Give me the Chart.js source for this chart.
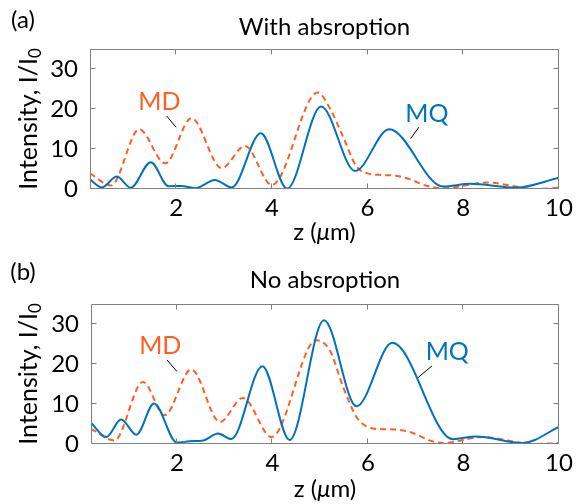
<!DOCTYPE html>
<html>
<head>
<meta charset="utf-8">
<script src="https://cdn.jsdelivr.net/npm/chart.js@4.4.1/dist/chart.umd.min.js"></script>
<style>
  body { margin: 0; background: #fff; }
  canvas { display: block; }
</style>
</head>
<body>
<canvas id="chartA" width="583" height="252"></canvas>
<canvas id="chartB" width="583" height="252"></canvas>
<script>
// intensity I/I0 along z (um)
// (a) with absorption
const zMqA = [0.2, 0.45, 0.76, 1.05, 1.47, 1.84, 2.1, 2.4, 2.81, 3.16, 3.77, 4.32, 5.03, 5.74, 6.45, 7.58, 8.14, 9.11, 10];
const mqA = [2.4, 0.4, 3.1, 0.3, 6.7, 0.7, 0.75, 0.2, 2.25, 0.4, 13.9, 0.1, 20.6, 4.5, 14.9, 0.6, 1.3, 0.35, 2.8];
const zMdA = [0.2, 0.64, 1.23, 1.77, 2.32, 2.95, 3.44, 4.0, 4.96, 5.21, 5.49, 5.77, 6.0, 6.3, 6.6, 6.89, 7.23, 7.6, 8.49, 9.53, 10];
const mdA = [3.9, 0.9, 14.9, 6.4, 17.7, 5.2, 10.75, 1.0, 24.1, 20.2, 13, 5.6, 3.9, 3.5, 3.3, 2.4, 0.8, 0.2, 1.6, 0.0, 0.3];

// (b) no absorption
const zMqB = [0.2, 0.52, 0.83, 1.15, 1.52, 2.0, 2.27, 2.55, 2.86, 3.14, 3.79, 4.36, 5.08, 5.76, 6.51, 7.78, 8.26, 9.24, 10];
const mqB = [5.3, 1.75, 6.1, 2.3, 10.1, 0.35, 0.7, 0.9, 2.6, 1.25, 19.4, 1.0, 30.9, 9.4, 25.25, 1.2, 1.9, 0.25, 4.25];
const zMdB = [0.2, 0.69, 1.29, 1.74, 2.3, 2.9, 3.38, 3.98, 4.92, 5.2, 5.48, 5.76, 6.0, 6.3, 6.6, 6.94, 7.29, 7.57, 8.4, 9.45, 10];
const mdB = [3.8, 0.9, 15.5, 7.2, 18.6, 5.5, 11.5, 1.75, 25.9, 23.4, 14.25, 6.75, 4.25, 3.7, 3.6, 2.75, 0.9, 0.25, 1.75, 0.0, 0.25];

const xTicks = [2, 4, 6, 8, 10];
const yTicks = [0, 10, 20, 30];

const blue = '#0072BD';
const orange = '#FF5F22';
const family = 'Lato, "DejaVu Sans", sans-serif';

const toPoints = (zs, vals) => zs.map((z, i) => ({ x: z, y: vals[i] }));

// box with inward ticks, axis titles, panel letter and MD/MQ callouts
const panelPlugin = {
  id: 'panel',
  afterDraw(chart, args, opts) {
    const { ctx, chartArea: a } = chart;
    const x = chart.scales.x;
    const y = chart.scales.y;
    const L = Math.round(a.left) + 0.5, R = Math.round(a.right) - 0.5;
    const T = Math.round(a.top) + 0.5, B = Math.round(a.bottom) - 0.5;
    ctx.save();
    ctx.strokeStyle = '#808080';
    ctx.lineWidth = 1;
    ctx.beginPath();
    ctx.rect(L, T, R - L, B - T);
    xTicks.forEach(v => {
      const px = Math.round(x.getPixelForValue(v)) - 0.5;
      ctx.moveTo(px, B); ctx.lineTo(px, B - 5);
      ctx.moveTo(px, T); ctx.lineTo(px, T + 5);
    });
    yTicks.forEach(v => {
      const py = Math.round(y.getPixelForValue(v)) - 0.5;
      ctx.moveTo(L, py); ctx.lineTo(L + 5, py);
      ctx.moveTo(R, py); ctx.lineTo(R - 5, py);
    });
    ctx.stroke();

    ctx.fillStyle = '#000';
    ctx.textBaseline = 'middle';

    // panel letter
    ctx.font = '24px ' + family;
    ctx.textAlign = 'center';
    ctx.fillText(opts.letter, 23, 20);

    // x title: z (mu m) with italic mu
    const parts = [['z (', 'normal'], ['\u03bc', 'italic'], ['m)', 'normal']];
    let w = 0;
    parts.forEach(p => { ctx.font = p[1] + ' 24px ' + family; w += ctx.measureText(p[0]).width; });
    let cx = (a.left + a.right) / 2 - w / 2;
    const ty = a.bottom + opts.xTitleGap;
    ctx.textAlign = 'left';
    parts.forEach(p => {
      ctx.font = p[1] + ' 24px ' + family;
      ctx.fillText(p[0], cx, ty);
      cx += ctx.measureText(p[0]).width;
    });

    // y title with subscript 0
    ctx.save();
    ctx.translate(29, (a.top + a.bottom) / 2);
    ctx.rotate(-Math.PI / 2);
    ctx.font = '25px ' + family;
    const main = 'Intensity, I/I';
    const mw = ctx.measureText(main).width;
    ctx.font = '17px ' + family;
    const sw = ctx.measureText('0').width;
    let sx = -(mw + sw) / 2;
    ctx.font = '25px ' + family;
    ctx.fillText(main, sx, 0);
    ctx.font = '17px ' + family;
    ctx.fillText('0', sx + mw, 7);
    ctx.restore();

    // MD / MQ callouts
    ctx.textAlign = 'center';
    ctx.textBaseline = 'alphabetic';
    opts.callouts.forEach(c => {
      ctx.fillStyle = c.color;
      ctx.font = '25px ' + family;
      ctx.fillText(c.text, x.getPixelForValue(c.at[0]), y.getPixelForValue(c.at[1]) + 9);
      ctx.strokeStyle = '#000';
      ctx.lineWidth = 1;
      ctx.beginPath();
      ctx.moveTo(x.getPixelForValue(c.line[0]), y.getPixelForValue(c.line[1]));
      ctx.lineTo(x.getPixelForValue(c.line[2]), y.getPixelForValue(c.line[3]));
      ctx.stroke();
    });
    ctx.restore();
  }
};

const makeChart = (id, title, zMq, mq, zMd, md, cfg) => {
  new Chart(document.getElementById(id), {
    type: 'line',
    data: {
      datasets: [
        {
          label: 'MQ',
          data: toPoints(zMq, mq),
          borderColor: blue,
          borderWidth: 2,
          pointRadius: 0,
          cubicInterpolationMode: 'monotone',
        },
        {
          label: 'MD',
          data: toPoints(zMd, md),
          borderColor: orange,
          borderWidth: 2,
          borderDash: [6, 4],
          pointRadius: 0,
          cubicInterpolationMode: 'monotone',
        },
      ],
    },
    options: {
      responsive: false,
      animation: false,
      devicePixelRatio: 1,
      layout: { padding: { left: 0, right: 24, top: 0, bottom: 0 } },
      plugins: {
        legend: { display: false },
        tooltip: { enabled: false },
        title: {
          display: true,
          text: title,
          fullSize: false,
          color: '#000',
          font: { family: family, size: 24, weight: 'normal' },
          padding: cfg.titlePad,
        },
        panel: cfg.panel,
      },
      scales: {
        x: {
          type: 'linear',
          min: 0.2,
          max: 10,
          grid: { display: false, drawTicks: false },
          border: { display: false },
          afterBuildTicks: s => { s.ticks = xTicks.map(v => ({ value: v })); },
          afterFit: s => { s.height = cfg.xHeight; },
          ticks: { color: '#000', padding: 5, maxRotation: 0, font: { family: family, size: 24 } },
        },
        y: {
          min: 0,
          max: 35,
          grid: { display: false, drawTicks: false },
          border: { display: false },
          afterBuildTicks: s => { s.ticks = yTicks.map(v => ({ value: v })); },
          afterFit: s => { s.width = cfg.yWidth; },
          ticks: { color: '#000', padding: 12, font: { family: family, size: 24 } },
        },
      },
    },
    plugins: [panelPlugin],
  });
};

makeChart('chartA', 'With absroption', zMqA, mqA, zMdA, mdA, {
  titlePad: { top: 13, bottom: 7 },
  xHeight: 63,
  yWidth: 90,
  panel: {
    letter: '(a)',
    xTitleGap: 43,
    callouts: [
      { text: 'MD', color: orange, at: [1.65, 22], line: [1.8, 18.25, 2.0, 15.4] },
      { text: 'MQ', color: blue, at: [7.24, 19], line: [7.07, 15.4, 6.9, 12.6] },
    ],
  },
});

makeChart('chartB', 'No absroption', zMqB, mqB, zMdB, mdB, {
  titlePad: { top: 14, bottom: 9 },
  xHeight: 60,
  yWidth: 91,
  panel: {
    letter: '(b)',
    xTitleGap: 45,
    callouts: [
      { text: 'MD', color: orange, at: [1.65, 24.7], line: [1.79, 21.0, 2.0, 18.1] },
      { text: 'MQ', color: blue, at: [7.66, 23.1], line: [7.34, 19.5, 7.05, 16.6] },
    ],
  },
});
</script>
</body>
</html>
